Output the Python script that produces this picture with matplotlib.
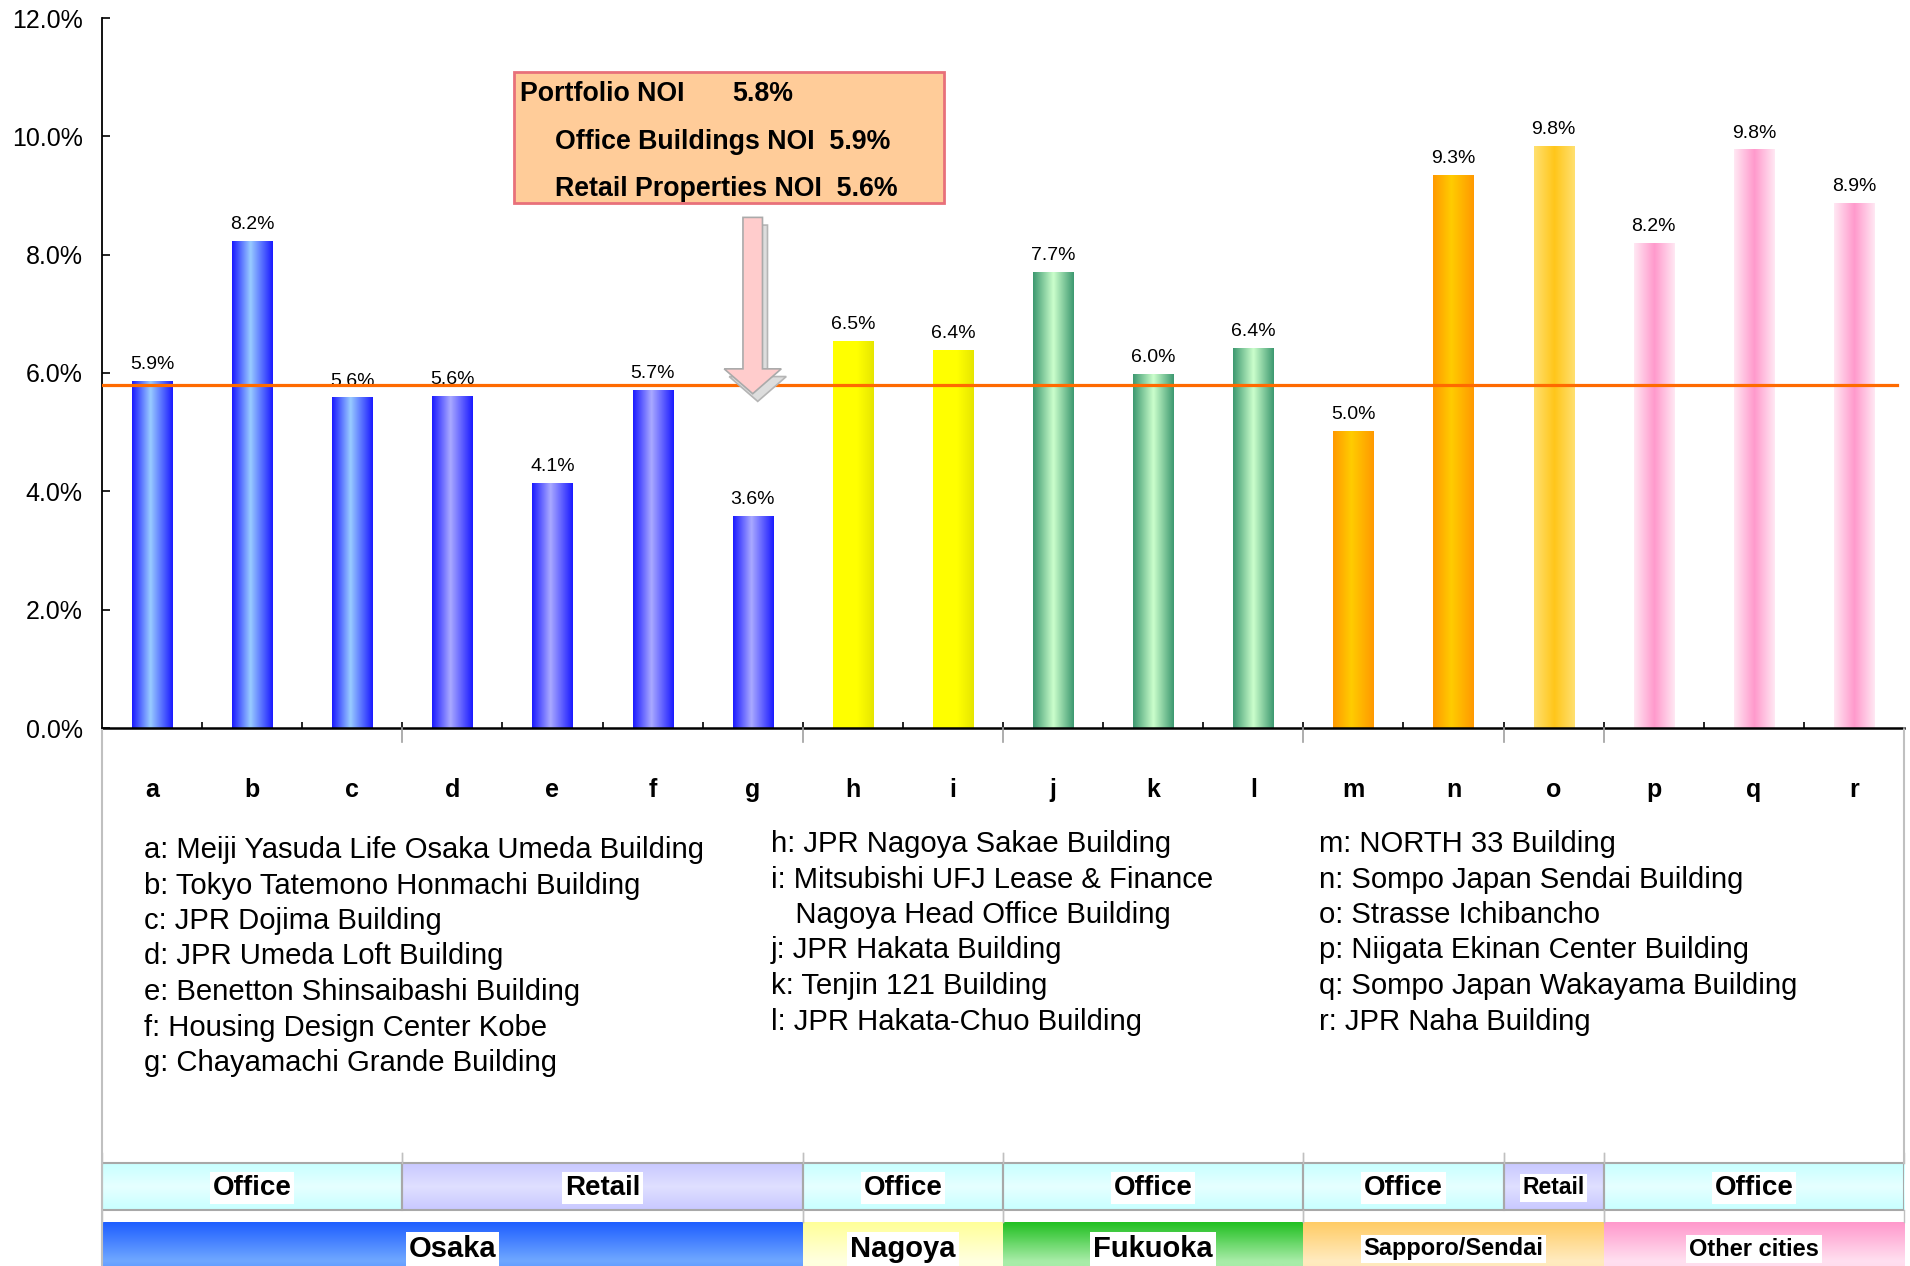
import matplotlib
matplotlib.use('Agg')
import matplotlib.pyplot as plt
import matplotlib.patches as mpatches
from matplotlib.colors import LinearSegmentedColormap
import numpy as np

plt.rcParams['font.family'] = ['Liberation Sans', 'DejaVu Sans']

# --- data ---
letters = list('abcdefghijklmnopqr')
noi_yield = [5.86, 8.23, 5.58, 5.60, 4.14, 5.70, 3.58, 6.54, 6.38, 7.70,
             5.97, 6.42, 5.01, 9.34, 9.83, 8.19, 9.77, 8.87]
bar_style = (['osaka_office'] * 3 + ['osaka_retail'] * 4 + ['nagoya'] * 2 +
             ['fukuoka'] * 3 + ['sendai'] * 2 + ['sendai_retail'] + ['other'] * 3)
portfolio_noi = 5.8
office_noi = 5.9
retail_noi = 5.6

names_col1 = ['a: Meiji Yasuda Life Osaka Umeda Building',
              'b: Tokyo Tatemono Honmachi Building',
              'c: JPR Dojima Building',
              'd: JPR Umeda Loft Building',
              'e: Benetton Shinsaibashi Building',
              'f: Housing Design Center Kobe',
              'g: Chayamachi Grande Building']
names_col2 = ['h: JPR Nagoya Sakae Building',
              'i: Mitsubishi UFJ Lease & Finance',
              '   Nagoya Head Office Building',
              'j: JPR Hakata Building',
              'k: Tenjin 121 Building',
              'l: JPR Hakata-Chuo Building']
names_col3 = ['m: NORTH 33 Building',
              'n: Sompo Japan Sendai Building',
              'o: Strasse Ichibancho',
              'p: Niigata Ekinan Center Building',
              'q: Sompo Japan Wakayama Building',
              'r: JPR Naha Building']

type_groups = [('Office', 0, 3), ('Retail', 3, 7), ('Office', 7, 9), ('Office', 9, 12),
               ('Office', 12, 14), ('Retail', 14, 15), ('Office', 15, 18)]
city_groups = [('Osaka', 0, 7), ('Nagoya', 7, 9), ('Fukuoka', 9, 12),
               ('Sapporo/Sendai', 12, 15), ('Other cities', 15, 18)]

# gradient colours (left edge -> centre -> right edge)
bar_grad = {
    'osaka_office': [(0, '#1a1aff'), (0.45, '#99ccff'), (1, '#1a1aff')],
    'osaka_retail': [(0, '#1a1aff'), (0.45, '#aaaaff'), (1, '#1a1aff')],
    'nagoya': [(0, '#ffff00'), (0.6, '#ffff00'), (1, '#e6e600')],
    'fukuoka': [(0, '#3d9970'), (0.5, '#ccffcc'), (1, '#3d9970')],
    'sendai': [(0, '#ff9900'), (0.45, '#ffcc00'), (1, '#ff9900')],
    'sendai_retail': [(0, '#ffe070'), (0.5, '#ffc61a'), (1, '#ffe070')],
    'other': [(0, '#ffe8f3'), (0.5, '#ff99cc'), (1, '#ffe8f3')],
}
band_grad = {
    'Office': ['#c8ffff', '#e6ffff', '#c8ffff'],
    'Retail': ['#c8c8ff', '#e0e0ff', '#c8c8ff'],
    'Osaka': ['#1f5fff', '#70a8ff', '#1f5fff'],
    'Nagoya': ['#ffff99', '#ffffe0', '#ffffcc'],
    'Fukuoka': ['#22c022', '#a8eca8', '#a8eca8'],
    'Sapporo/Sendai': ['#ffcc66', '#ffebc0', '#ffe0a0'],
    'Other cities': ['#ff99cc', '#ffe0f0', '#ffc8e0'],
}

W, H = 1910, 1266
fig = plt.figure(figsize=(W / 100, H / 100), dpi=100)
ax = fig.add_axes([102 / W, 1 - 728 / H, 1802 / W, 710 / H])
ax2 = fig.add_axes([102 / W, 0, 1802 / W, (H - 728) / H])

x = np.arange(len(letters))
bars = ax.bar(x, noi_yield, width=0.4, color='none', edgecolor='none', zorder=2)
ramp = np.linspace(0, 1, 128)[None, :]
for rect, style in zip(bars, bar_style):
    cmap = LinearSegmentedColormap.from_list(style, bar_grad[style])
    x0, w, h = rect.get_x(), rect.get_width(), rect.get_height()
    ax.imshow(ramp, cmap=cmap, extent=[x0, x0 + w, 0, h], aspect='auto',
              interpolation='bilinear', zorder=2)
    ax.annotate(f'{h:.1f}%', (x0 + w / 2, h), xytext=(0, 6), textcoords='offset points',
                ha='center', va='bottom', fontsize=14)

ax.axhline(portfolio_noi, xmin=0, xmax=0.996, color='#ff6a00', lw=2.3, zorder=3)

ax.set_xlim(-0.5, 17.5)
ax.set_ylim(0, 12)
yt = np.arange(0, 12.1, 2)
ax.set_yticks(yt, [f'{t:.1f}%' for t in yt])
ax.set_xticks(x, letters, fontweight='bold')
ax.set_xticks(np.arange(0.5, 17), minor=True)
ax.tick_params(axis='y', direction='in', length=6, width=1.2, labelsize=18, pad=14)
ax.tick_params(axis='x', which='major', length=0, labelsize=18, pad=36)
ax.tick_params(axis='x', which='minor', direction='in', length=4.5, width=1.2)
for s in ['top', 'right']:
    ax.spines[s].set_visible(False)
ax.spines['left'].set_linewidth(1.3)
ax.spines['bottom'].set_linewidth(1.8)

# NOI summary box
ax.add_patch(mpatches.Rectangle((0.2286, 0.7394), 0.2387, 0.1845, transform=ax.transAxes,
                                facecolor='#ffcc99', edgecolor='#e8707a', lw=2, zorder=5))
kw = dict(transform=ax.transAxes, fontsize=19.3, fontweight='bold', va='center', ha='left', zorder=6)
ax.text(0.232, 0.893, 'Portfolio NOI', **kw)
ax.text(0.3496, 0.893, f'{portfolio_noi:.1f}%', **kw)
ax.text(0.2515, 0.826, f'Office Buildings NOI  {office_noi:.1f}%', **kw)
ax.text(0.2515, 0.759, f'Retail Properties NOI  {retail_noi:.1f}%', **kw)

# arrow pointing at the portfolio line
ax_x = x[6]
shadow = mpatches.FancyArrow(ax_x + 0.05, 8.63 - 0.13, 0, -(8.63 - 5.65), width=0.195,
                             head_width=0.57, head_length=0.42, length_includes_head=True,
                             facecolor='#dddddd', edgecolor='#b5b5b5', lw=1.2, zorder=3.5)
arrow = mpatches.FancyArrow(ax_x, 8.63, 0, -(8.63 - 5.65), width=0.195,
                            head_width=0.57, head_length=0.42, length_includes_head=True,
                            facecolor='#ffcccc', edgecolor='#aaaaaa', lw=1.2, zorder=4)
ax.add_patch(shadow)
ax.add_patch(arrow)

# building names
for col_x, col_y, lines in [(144, 850, names_col1), (771, 844, names_col2), (1319, 844, names_col3)]:
    for i, line in enumerate(lines):
        fig.text(col_x / W, 1 - (col_y + i * 35.5) / H, line, fontsize=21.1, va='center', ha='left')

# bottom bands (y in pixels from top)
vramp = np.linspace(0, 1, 64)[:, None]
row1 = (1163, 1210)
row2 = (1222, 1300)
gray = '#a8a8a8'
for label, s, e in type_groups:
    cmap = LinearSegmentedColormap.from_list(label, band_grad[label])
    ax2.imshow(vramp, cmap=cmap, extent=[s - 0.5, e - 0.5, row1[1], row1[0]], aspect='auto',
               interpolation='bilinear', zorder=1)
    ax2.add_patch(mpatches.Rectangle((s - 0.5, row1[0]), e - s, row1[1] - row1[0],
                                     facecolor='none', edgecolor=gray, lw=1.5, zorder=2))
    ax2.text((s + e) / 2 - 0.5, 1188, label, ha='center', va='center', fontweight='bold',
             fontsize=20 if e - s > 1 else 16.5, zorder=3,
             bbox=dict(facecolor='white', edgecolor='none', pad=2))
    for b in (s, e):
        ax2.plot([b - 0.5, b - 0.5], [1153, row1[0]], color='#c0c0c0', lw=1, clip_on=False)

for label, s, e in city_groups:
    cmap = LinearSegmentedColormap.from_list(label, band_grad[label])
    ax2.imshow(vramp, cmap=cmap, extent=[s - 0.5, e - 0.5, row2[1], row2[0]], aspect='auto',
               interpolation='bilinear', zorder=1)
    ax2.text((s + e) / 2 - 0.5, 1249, label, ha='center', va='center', fontweight='bold',
             fontsize=21 if len(label) <= 7 else 17, zorder=3,
             bbox=dict(facecolor='white', edgecolor='none', pad=2))
    for b in (s, e):
        ax2.plot([b - 0.5, b - 0.5], [row1[1], row2[0]], color='#c0c0c0', lw=1, clip_on=False)

# group boundary marks under the axis and frame lines
for label, s, e in type_groups:
    ax2.plot([e - 0.5, e - 0.5], [728, 742], color='#a0a0a0', lw=1.2, clip_on=False)
ax2.plot([-0.5, -0.5], [730, H], color='#c0c0c0', lw=1.5, clip_on=False)
ax2.plot([17.5, 17.5], [730, row1[0]], color='#c0c0c0', lw=1.5, clip_on=False)

ax2.set_xlim(-0.5, 17.5)
ax2.set_ylim(H, 728)
ax2.axis('off')

fig.savefig('out.png', dpi=100)
